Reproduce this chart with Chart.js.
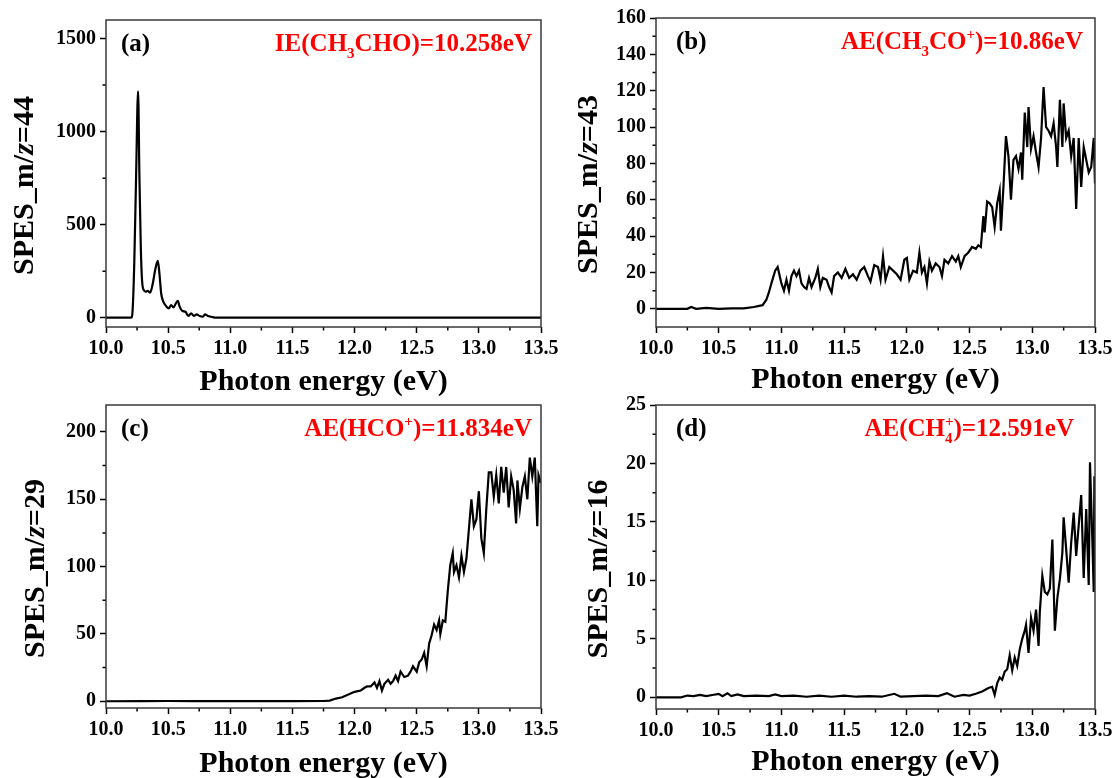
<!DOCTYPE html>
<html>
<head>
<meta charset="utf-8">
<title>SPES panels</title>
<script src="https://cdn.jsdelivr.net/npm/chart.js@4.4.1/dist/chart.umd.min.js"></script>
<style>
  html, body { margin: 0; padding: 0; background: #fff; }
  body { position: relative; width: 1112px; height: 778px; overflow: hidden; }
  canvas { position: absolute; }
</style>
</head>
<body>
<canvas id="panelA" width="600" height="400" style="left:0;top:0"></canvas>
<canvas id="panelB" width="600" height="400" style="left:556px;top:0"></canvas>
<canvas id="panelC" width="600" height="389" style="left:0;top:389px"></canvas>
<canvas id="panelD" width="600" height="389" style="left:556px;top:389px"></canvas>
<script>
// x axis (photon energy, eV)
const energyTicks = [10.0, 10.5, 11.0, 11.5, 12.0, 12.5, 13.0, 13.5];
const energyMinor = [10.25, 10.75, 11.25, 11.75, 12.25, 12.75, 13.25];

// (a) m/z = 44
const aEnergy = [10.0, 10.2, 10.207, 10.215, 10.228, 10.242, 10.258, 10.269, 10.28, 10.29,
  10.304, 10.32, 10.336, 10.355, 10.376, 10.398, 10.417, 10.43, 10.444, 10.462,
  10.484, 10.505, 10.524, 10.543, 10.562, 10.578, 10.591, 10.613, 10.64, 10.661,
  10.685, 10.707, 10.731, 10.753, 10.78, 10.796, 10.82, 10.847, 10.887, 11.0,
  12.0, 13.0, 13.5];
const aSignal = [0, 0, 2, 50, 308, 753, 1216, 753, 379, 201,
  148, 140, 144, 135, 183, 264, 305, 237, 130, 85,
  62, 50, 68, 55, 77, 91, 62, 37, 32, 9,
  23, 9, 18, 9, 5, 18, 9, 5, 0, 0,
  0, 0, 0];
const aTicks = [0, 500, 1000, 1500];
const aMinor = [250, 750, 1250];

// (b) m/z = 43
const bEnergy = [10.0, 10.25, 10.28, 10.32, 10.4, 10.5, 10.6, 10.7, 10.78, 10.85,
  10.88, 10.9, 10.92, 10.95, 10.97, 11.0, 11.02, 11.04, 11.06, 11.08,
  11.1, 11.12, 11.14, 11.16, 11.18, 11.2, 11.22, 11.24, 11.27, 11.29,
  11.31, 11.33, 11.36, 11.38, 11.4, 11.42, 11.45, 11.48, 11.51, 11.54,
  11.57, 11.6, 11.63, 11.66, 11.69, 11.71, 11.74, 11.77, 11.79, 11.81,
  11.83, 11.86, 11.89, 11.92, 11.95, 11.98, 12.0, 12.02, 12.05, 12.08,
  12.1, 12.12, 12.14, 12.16, 12.18, 12.2, 12.23, 12.26, 12.28, 12.3,
  12.33, 12.36, 12.39, 12.41, 12.43, 12.46, 12.49, 12.52, 12.55, 12.57,
  12.59, 12.61, 12.62, 12.64, 12.66, 12.68, 12.7, 12.72, 12.74, 12.75,
  12.77, 12.79, 12.81, 12.83, 12.85, 12.87, 12.89, 12.91, 12.92, 12.94,
  12.96, 12.97, 12.99, 13.01, 13.03, 13.05, 13.07, 13.09, 13.11, 13.13,
  13.15, 13.17, 13.19, 13.2, 13.22, 13.24, 13.25, 13.27, 13.29, 13.31,
  13.33, 13.35, 13.37, 13.39, 13.41, 13.43, 13.45, 13.47, 13.49, 13.5];
const bSignal = [0, 0, 1, 0, 0.5, 0, 0.3, 0.2, 1, 2,
  5, 9, 14, 21, 23, 14, 10, 16, 10, 18,
  21, 18, 21, 14, 12, 11, 17, 12, 17, 22,
  12, 17, 16, 12, 9, 18, 20, 17, 22, 17,
  19, 16, 21, 23, 18, 15, 24, 23, 16, 29,
  16, 23, 21, 19, 16, 27, 28, 16, 21, 20,
  31, 20, 23, 14, 26, 21, 25, 23, 18, 27,
  25, 29, 26, 29, 23, 29, 31, 34, 33, 35,
  34, 51, 42, 59, 58, 56, 45, 58, 65, 43,
  67, 95, 84, 60, 82, 84, 77, 86, 71, 108,
  89, 111, 88, 95, 86, 78, 94, 122, 100, 98,
  95, 102, 89, 78, 115, 89, 113, 94, 98, 84,
  94, 55, 94, 67, 89, 82, 75, 78, 94, 69];
const bTicks = [0, 20, 40, 60, 80, 100, 120, 140, 160];
const bMinor = [10, 30, 50, 70, 90, 110, 130, 150];

// (c) m/z = 29
const cEnergy = [10.0, 10.3, 10.5, 10.7, 11.0, 11.3, 11.5, 11.75, 11.8, 11.85,
  11.9, 11.95, 12.0, 12.05, 12.08, 12.1, 12.13, 12.16, 12.18, 12.2,
  12.22, 12.24, 12.27, 12.29, 12.31, 12.33, 12.35, 12.37, 12.4, 12.43,
  12.45, 12.47, 12.5, 12.52, 12.54, 12.56, 12.58, 12.6, 12.62, 12.64,
  12.66, 12.68, 12.69, 12.71, 12.73, 12.75, 12.77, 12.79, 12.8, 12.82,
  12.84, 12.86, 12.88, 12.9, 12.92, 12.94, 12.96, 12.98, 13.0, 13.02,
  13.04, 13.06, 13.08, 13.1, 13.12, 13.14, 13.16, 13.18, 13.2, 13.22,
  13.24, 13.26, 13.28, 13.3, 13.31, 13.33, 13.35, 13.37, 13.39, 13.41,
  13.43, 13.45, 13.47, 13.48, 13.5];
const cSignal = [0, 0.1, 0.2, 0.1, 0.1, 0.1, 0.1, 0.2, 0.5, 2,
  3, 5, 7, 8, 10, 11, 11, 14, 10, 15,
  8, 13, 16, 13, 15, 19, 15, 22, 18, 19,
  22, 26, 22, 29, 31, 36, 26, 43, 49, 57,
  53, 60, 50, 60, 59, 82, 101, 110, 96, 101,
  92, 108, 96, 106, 128, 150, 130, 135, 156, 121,
  110, 143, 170, 170, 152, 168, 147, 174, 155, 174,
  144, 167, 157, 132, 164, 143, 159, 167, 150, 181,
  167, 181, 130, 168, 162];
const cTicks = [0, 50, 100, 150, 200];
const cMinor = [25, 75, 125, 175];

// (d) m/z = 16
const dEnergy = [10.0, 10.2, 10.25, 10.3, 10.35, 10.4, 10.45, 10.5, 10.53, 10.57,
  10.6, 10.65, 10.7, 10.8, 10.9, 10.95, 11.0, 11.1, 11.2, 11.3,
  11.4, 11.5, 11.6, 11.7, 11.8, 11.9, 11.95, 12.05, 12.15, 12.25,
  12.32, 12.38, 12.45, 12.5, 12.55, 12.6, 12.65, 12.68, 12.7, 12.72,
  12.74, 12.76, 12.78, 12.8, 12.82, 12.84, 12.86, 12.88, 12.9, 12.92,
  12.94, 12.95, 12.97, 12.99, 13.01, 13.03, 13.05, 13.06, 13.08, 13.1,
  13.12, 13.14, 13.16, 13.18, 13.2, 13.22, 13.24, 13.25, 13.27, 13.29,
  13.31, 13.33, 13.35, 13.37, 13.39, 13.41, 13.43, 13.45, 13.46, 13.48,
  13.49, 13.495, 13.5];
const dSignal = [0, 0, 0.15, 0.1, 0.2, 0.1, 0.2, 0.3, 0.1, 0.35,
  0.1, 0.25, 0.1, 0.15, 0.1, 0.25, 0.1, 0.15, 0.05, 0.15,
  0.05, 0.15, 0.05, 0.1, 0.05, 0.3, 0.05, 0.1, 0.15, 0.1,
  0.35, 0.05, 0.2, 0.15, 0.3, 0.5, 0.8, 0.9, 0.2, 1.2,
  1.7, 1.5, 2.2, 2.4, 3.6, 2.3, 3.4, 2.7, 4.1, 5.0,
  5.7, 6.2, 3.8, 6.8, 5.7, 7.5, 4.4, 7.3, 10.4, 9.0,
  8.8, 9.3, 13.5, 5.7, 8.5, 10.1, 12.4, 15.4, 12.7, 9.8,
  13.2, 15.8, 12.1, 14.7, 17.3, 10.2, 16.1, 9.6, 20.1, 13.0,
  9.0, 18.9, 9.0];
const dTicks = [0, 5, 10, 15, 20, 25];
const dMinor = [2.5, 7.5, 12.5, 17.5, 22.5];

const SERIF = "'Liberation Serif', 'Times New Roman', serif";

// draw a run of text pieces: n = normal, i = italic, sub, sup, subsup = [sub, sup] stacked
function richFont(kind, size) {
  if (kind === 'i') return `italic bold ${size}px ${SERIF}`;
  if (kind === 'n') return `bold ${size}px ${SERIF}`;
  return `bold ${Math.round(size * 0.6)}px ${SERIF}`;
}
function pieceWidth(ctx, p, size) {
  ctx.font = richFont(p[1], size);
  if (p[1] === 'subsup') return Math.max(ctx.measureText(p[0][0]).width, ctx.measureText(p[0][1]).width);
  return ctx.measureText(p[0]).width;
}
function drawRich(ctx, parts, x, y, align, size, color) {
  const total = parts.reduce((s, p) => s + pieceWidth(ctx, p, size), 0);
  let cx = align === 'right' ? x - total : align === 'center' ? x - total / 2 : x;
  ctx.fillStyle = color;
  ctx.textAlign = 'left';
  parts.forEach(p => {
    const w = pieceWidth(ctx, p, size);
    ctx.font = richFont(p[1], size);
    if (p[1] === 'sub') ctx.fillText(p[0], cx, y + size * 0.28);
    else if (p[1] === 'sup') ctx.fillText(p[0], cx, y - size * 0.42);
    else if (p[1] === 'subsup') {
      ctx.fillText(p[0][0], cx, y + size * 0.28);
      ctx.fillText(p[0][1], cx, y - size * 0.42);
    } else ctx.fillText(p[0], cx, y);
    cx += w;
  });
}

const decor = {
  id: 'decor',
  afterDraw(chart, args, o) {
    const { ctx, chartArea: a, scales: { x, y } } = chart;
    ctx.save();
    // minor ticks, outward
    ctx.strokeStyle = '#000';
    ctx.lineWidth = 1.5;
    ctx.beginPath();
    energyMinor.forEach(v => {
      const px = x.getPixelForValue(v);
      ctx.moveTo(px, a.bottom); ctx.lineTo(px, a.bottom + 3.5);
    });
    o.yMinor.forEach(v => {
      const py = y.getPixelForValue(v);
      ctx.moveTo(a.left, py); ctx.lineTo(a.left - 3.5, py);
    });
    ctx.stroke();
    // frame
    ctx.strokeStyle = '#3a3a3a';
    ctx.strokeRect(a.left, a.top, a.right - a.left, a.bottom - a.top);
    // panel tag + red note
    ctx.textBaseline = 'alphabetic';
    drawRich(ctx, [[o.tag, 'n']], a.left + o.tagDx, a.top + 31, 'left', 25, '#000');
    drawRich(ctx, o.note, a.right - o.noteDx, a.top + 31, 'right', 25, '#ff0000');
    // x title
    drawRich(ctx, [['Photon energy (eV)', 'n']], (a.left + a.right) / 2, o.xTitleY, 'center', 30, '#000');
    // y title, rotated
    ctx.translate(o.yTitleX, (a.top + a.bottom) / 2 + 12);
    ctx.rotate(-Math.PI / 2);
    ctx.textBaseline = 'middle';
    drawRich(ctx, o.yTitle, 0, 0, 'center', 30, '#000');
    ctx.restore();
  }
};

const tickFont = { family: SERIF, weight: 'bold', size: 20 };

function makePanel(id, energy, signal, yMin, yMax, yTicks, box, decorOpts, smooth) {
  const cv = document.getElementById(id);
  new Chart(cv, {
    type: 'line',
    data: {
      datasets: [{
        data: energy.map((e, i) => ({ x: e, y: signal[i] })),
        borderColor: '#000',
        borderWidth: 2.2,
        pointRadius: 0,
        fill: false,
        tension: smooth ? 0.4 : 0,
        cubicInterpolationMode: smooth ? 'monotone' : 'default'
      }]
    },
    options: {
      responsive: false,
      animation: false,
      devicePixelRatio: 1,
      layout: { padding: { left: 0, top: box.top, right: cv.width - box.right, bottom: 0 } },
      plugins: { legend: { display: false }, tooltip: { enabled: false }, decor: decorOpts },
      scales: {
        x: {
          type: 'linear', min: 10, max: 13.5,
          afterBuildTicks: s => { s.ticks = energyTicks.map(v => ({ value: v })); },
          afterFit: s => { s.height = cv.height - box.bottom; },
          ticks: { font: tickFont, color: '#000', padding: 4, maxRotation: 0, autoSkip: false,
                   callback: v => Number(v).toFixed(1) },
          grid: { drawOnChartArea: false, tickLength: 6, tickColor: '#000', tickWidth: 1.5 },
          border: { display: false }
        },
        y: {
          type: 'linear', min: yMin, max: yMax,
          afterBuildTicks: s => { s.ticks = yTicks.map(v => ({ value: v })); },
          afterFit: s => { s.width = box.left; },
          ticks: { font: tickFont, color: '#000', padding: 4, callback: v => String(v) },
          grid: { drawOnChartArea: false, tickLength: 6, tickColor: '#000', tickWidth: 1.5 },
          border: { display: false }
        }
      }
    },
    plugins: [decor]
  });
}

makePanel('panelA', aEnergy, aSignal, -50, 1600, aTicks,
  { left: 106, right: 541, top: 20, bottom: 327 },
  { yMinor: aMinor, tag: '(a)', tagDx: 15, noteDx: 9, xTitleY: 390, yTitleX: 25,
    note: [['IE(CH', 'n'], ['3', 'sub'], ['CHO)=10.258eV', 'n']],
    yTitle: [['SPES_m/', 'n'], ['z', 'i'], ['=44', 'n']] }, true);

makePanel('panelB', bEnergy, bSignal, -10, 160, bTicks,
  { left: 100, right: 539, top: 18, bottom: 327 },
  { yMinor: bMinor, tag: '(b)', tagDx: 20, noteDx: 12, xTitleY: 388, yTitleX: 33,
    note: [['AE(CH', 'n'], ['3', 'sub'], ['CO', 'n'], ['+', 'sup'], [')=10.86eV', 'n']],
    yTitle: [['SPES_m/', 'n'], ['z', 'i'], ['=43', 'n']] }, false);

makePanel('panelC', cEnergy, cSignal, -5, 220, cTicks,
  { left: 106, right: 541, top: 13, bottom: 319 },
  { yMinor: cMinor, tag: '(c)', tagDx: 15, noteDx: 9, xTitleY: 383, yTitleX: 36,
    note: [['AE(HCO', 'n'], ['+', 'sup'], [')=11.834eV', 'n']],
    yTitle: [['SPES_m/', 'n'], ['z', 'i'], ['=29', 'n']] }, false);

makePanel('panelD', dEnergy, dSignal, -1, 25, dTicks,
  { left: 100, right: 539, top: 12, bottom: 320 },
  { yMinor: dMinor, tag: '(d)', tagDx: 20, noteDx: 21, xTitleY: 381, yTitleX: 43,
    note: [['AE(CH', 'n'], [['4', '+'], 'subsup'], [')=12.591eV', 'n']],
    yTitle: [['SPES_m/', 'n'], ['z', 'i'], ['=16', 'n']] }, false);
</script>
</body>
</html>
